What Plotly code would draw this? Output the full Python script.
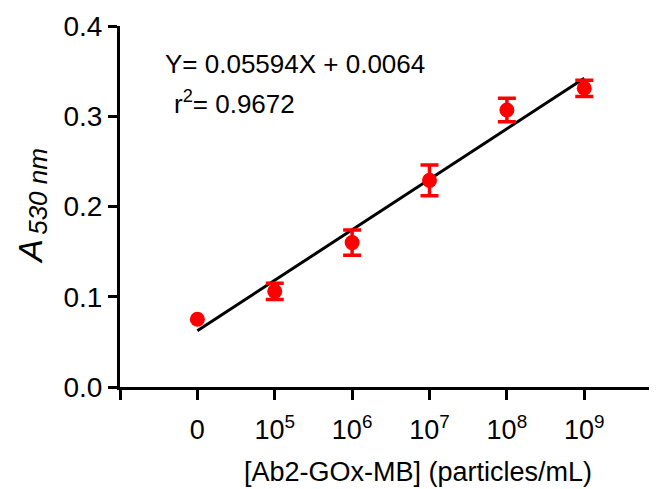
import plotly.graph_objects as go

positions = [1, 2, 3, 4, 5, 6]
tick_labels = ["0", "10<sup>5</sup>", "10<sup>6</sup>", "10<sup>7</sup>", "10<sup>8</sup>", "10<sup>9</sup>"]
absorbance = [0.075, 0.106, 0.160, 0.229, 0.307, 0.331]
errors = [0.0, 0.009, 0.014, 0.017, 0.013, 0.009]
slope = 0.05594
intercept = 0.0064

font_family = "Liberation Sans, Arial, sans-serif"
red = "#ff0000"

fig = go.Figure()
fit_x = [positions[0], positions[-1]]
fit_y = [slope * x + intercept for x in fit_x]
fig.add_trace(go.Scatter(x=fit_x, y=fit_y, mode="lines",
                         line=dict(color="black", width=3), showlegend=False))
with_err = [i for i, e in enumerate(errors) if e > 0]
no_err = [i for i, e in enumerate(errors) if e <= 0]
fig.add_trace(go.Scatter(x=[positions[i] for i in no_err],
                         y=[absorbance[i] for i in no_err], mode="markers",
                         marker=dict(color=red, size=15), showlegend=False))
fig.add_trace(go.Scatter(x=[positions[i] for i in with_err],
                         y=[absorbance[i] for i in with_err], mode="markers",
                         marker=dict(color=red, size=15),
                         error_y=dict(type="data", array=[errors[i] for i in with_err],
                                      color=red, thickness=3.5, width=9),
                         showlegend=False))

fig.update_layout(
    width=649, height=481,
    margin=dict(l=112, r=0, t=18, b=102),
    plot_bgcolor="white", paper_bgcolor="white",
    font=dict(family=font_family, color="black"),
    xaxis=dict(range=[0, 6.94], tickvals=[0] + positions, ticktext=[""] + tick_labels,
               showline=True, linewidth=3, linecolor="black", ticks="outside",
               ticklen=10, tickwidth=3, tickcolor="black", showgrid=False,
               zeroline=False, tickfont=dict(size=27), ticklabelstandoff=7),
    yaxis=dict(range=[0, 0.4], tickvals=[0, 0.1, 0.2, 0.3, 0.4], tickformat=".1f",
               showline=True, linewidth=3, linecolor="black", ticks="outside",
               ticklen=9, tickwidth=3, tickcolor="black", showgrid=False,
               zeroline=False, tickfont=dict(size=28)),
)

fig.add_annotation(text="Y= 0.05594X + 0.0064", xref="paper", yref="paper",
                   x=0.080, y=0.895, xanchor="left", yanchor="middle",
                   showarrow=False, font=dict(size=26))
fig.add_annotation(text="r<sup>2</sup>= 0.9672", xref="paper", yref="paper",
                   x=0.097, y=0.789, xanchor="left", yanchor="middle",
                   showarrow=False, font=dict(size=26))
fig.add_annotation(text="[Ab2-GOx-MB] (particles/mL)", xref="paper", yref="paper",
                   x=0.555, y=-0.236, xanchor="center", yanchor="middle",
                   showarrow=False, font=dict(size=27))
fig.add_annotation(text="<i>A</i>", xref="paper", yref="paper",
                   x=-0.168, y=0.377, xanchor="center", yanchor="middle",
                   textangle=-90, showarrow=False, font=dict(size=34))
fig.add_annotation(text="<i>530 nm</i>", xref="paper", yref="paper",
                   x=-0.153, y=0.543, xanchor="center", yanchor="middle",
                   textangle=-90, showarrow=False, font=dict(size=26))

fig.write_html("out.html")
